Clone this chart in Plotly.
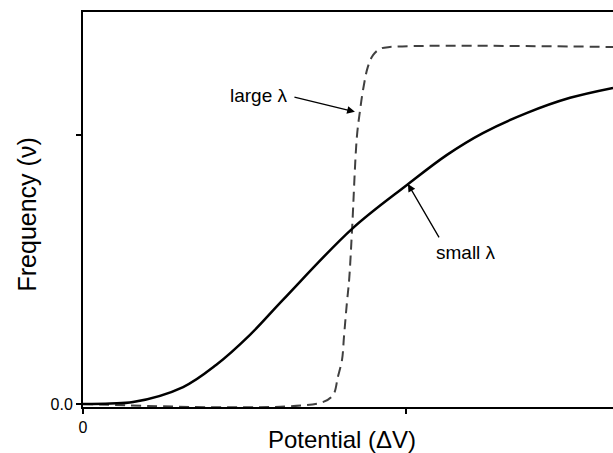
import plotly.graph_objects as go

# Solid curve (small lambda)
small_x = [0.0, 0.085, 0.155, 0.31, 0.412, 0.517, 0.619, 0.833, 1.003, 1.127, 1.238, 1.375, 1.508, 1.641]
small_y = [0.0, 0.002, 0.007, 0.063, 0.145, 0.257, 0.387, 0.651, 0.814, 0.926, 1.007, 1.082, 1.138, 1.175]

# Dashed curve (large lambda)
large_x = [0.0, 0.734, 0.774, 0.789, 0.802, 0.808, 0.817, 0.824, 0.833, 0.848, 0.858, 0.867, 0.882, 0.898, 0.92, 0.95, 1.641]
large_y = [0.0, 0.004, 0.033, 0.100, 0.164, 0.249, 0.375, 0.461, 0.647, 0.993, 1.093, 1.167, 1.253, 1.297, 1.320, 1.327, 1.327]

x_tickvals = [0, 1]
x_ticktext = ["0", ""]
y_tickvals = [0, 1]
y_ticktext = ["0.0", ""]

fig = go.Figure()
fig.add_trace(go.Scatter(x=large_x, y=large_y, mode="lines", line_shape="spline",
                         line=dict(color="#404040", width=2, dash="10px,6px")))
fig.add_trace(go.Scatter(x=small_x, y=small_y, mode="lines", line_shape="spline",
                         line=dict(color="black", width=2.5)))

font = "Liberation Sans, Arial, sans-serif"
fig.update_layout(
    width=613, height=453,
    margin=dict(l=83, r=0, t=12, b=46),
    paper_bgcolor="white", plot_bgcolor="white",
    showlegend=False,
    font=dict(family=font, color="black"),
    xaxis=dict(range=[0, 1.641], showgrid=False, zeroline=False,
               showline=True, linecolor="black", linewidth=2, mirror=True,
               ticks="outside", ticklen=5, tickwidth=1.5, tickcolor="black",
               tickvals=x_tickvals, ticktext=x_ticktext, tickfont=dict(size=16)),
    yaxis=dict(range=[-0.0112, 1.457], showgrid=False, zeroline=False,
               showline=True, linecolor="black", linewidth=2,
               ticks="outside", ticklen=5, tickwidth=1.5, tickcolor="black",
               tickvals=y_tickvals, ticktext=y_ticktext, tickfont=dict(size=16)),
)

fig.add_annotation(text="Potential (ΔV)", xref="paper", yref="paper", x=0.5, y=0,
                   xanchor="center", yanchor="middle", xshift=-6, yshift=-32,
                   showarrow=False, font=dict(size=24))
fig.add_annotation(text="Frequency (ν)", xref="paper", yref="paper", x=0, y=0.5,
                   xanchor="center", yanchor="middle", xshift=-57, yshift=-5, textangle=-90,
                   showarrow=False, font=dict(size=25))

# arrows
fig.add_annotation(x=0.842, y=1.086, xref="x", yref="y", text="", showarrow=True,
                   ax=-62, ay=-15, arrowhead=2, arrowsize=1.2, arrowwidth=1.3, arrowcolor="black")
fig.add_annotation(x=1.006, y=0.818, xref="x", yref="y", text="", showarrow=True,
                   ax=32, ay=55, arrowhead=2, arrowsize=1.2, arrowwidth=1.3, arrowcolor="black")
fig.add_annotation(text="large λ", xref="paper", yref="paper", x=(259-83)/530, y=(407-95)/395,
                   xanchor="center", yanchor="middle", showarrow=False, font=dict(size=19))
fig.add_annotation(text="small λ", xref="paper", yref="paper", x=(466-83)/530, y=(407-252)/395,
                   xanchor="center", yanchor="middle", showarrow=False, font=dict(size=19))

fig.write_html("out.html", config={"displayModeBar": False},
               post_script="document.body.style.margin='0';document.body.style.overflow='hidden';")
